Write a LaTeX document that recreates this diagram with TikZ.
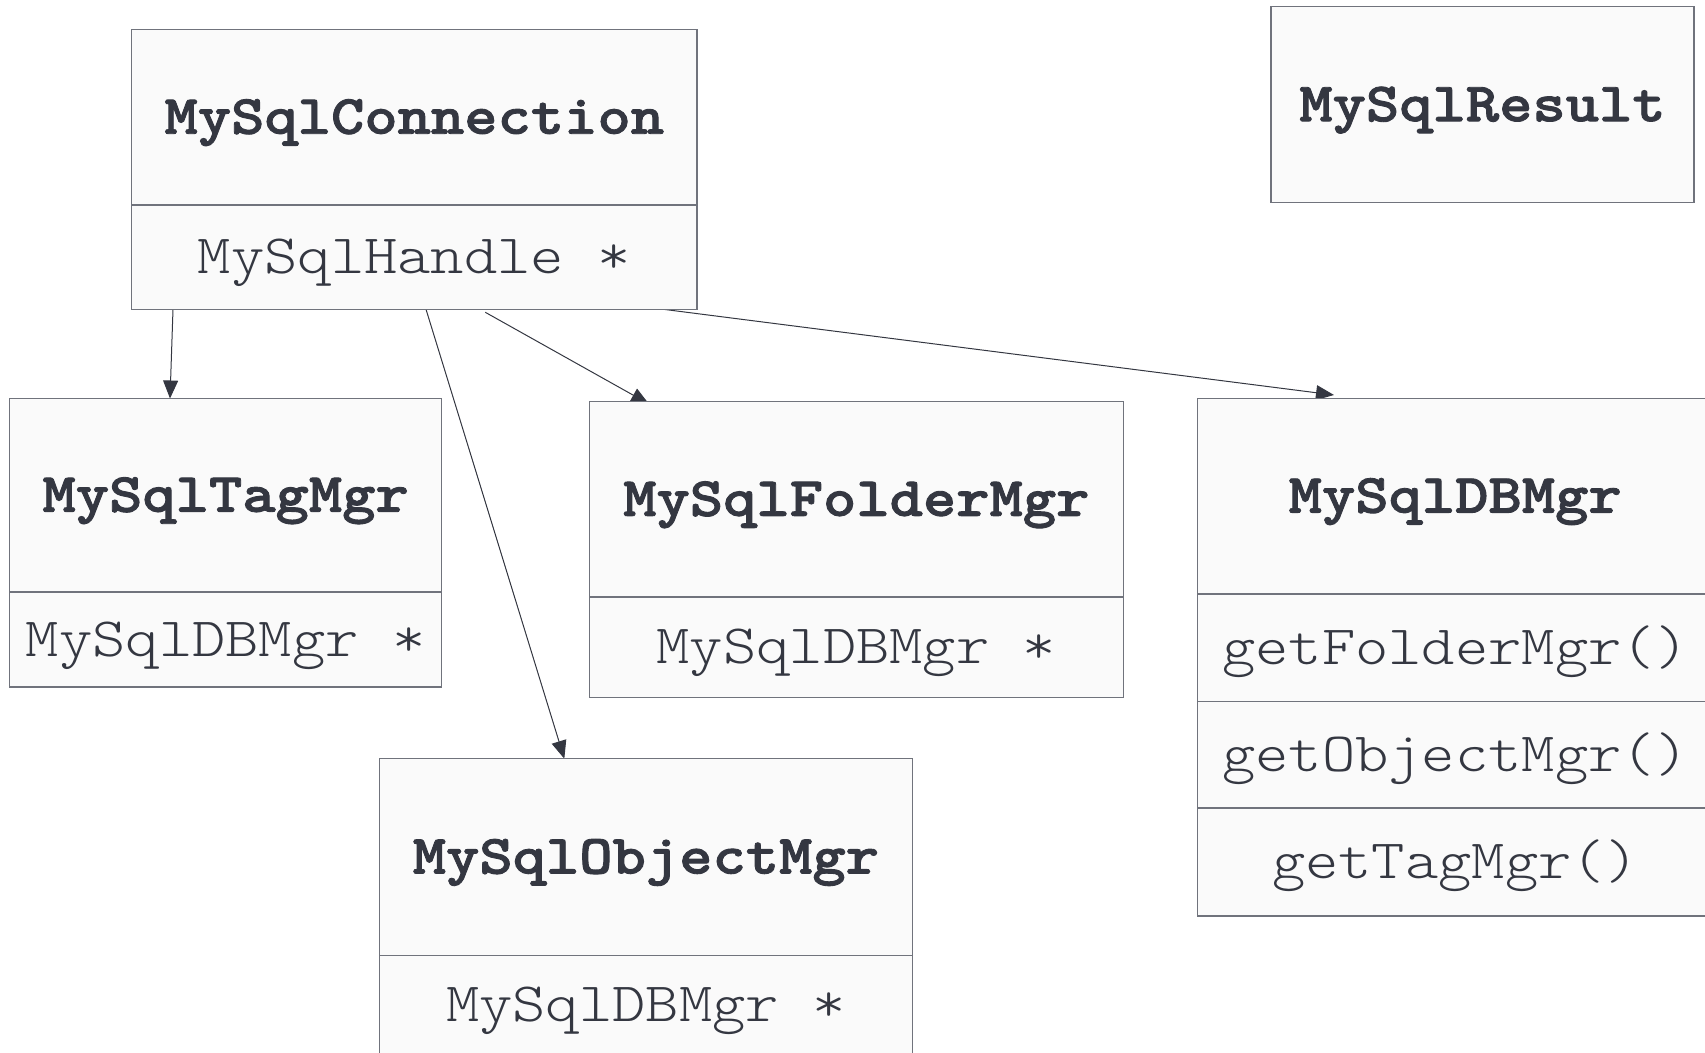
\documentclass[tikz,border=0pt]{standalone}
\usepackage{fontspec}
\setmonofont{lmmonolt10-regular.otf}[FakeStretch=1.143, BoldFont=lmmonolt10-bold.otf,
    BoldFeatures={FakeBold=1.6}]
\usetikzlibrary{arrows.meta, positioning, backgrounds}

\definecolor{boxfill}{HTML}{FAFAFA}
\definecolor{boxline}{HTML}{70737C}
\definecolor{ink}{HTML}{343741}

\begin{document}
\begin{tikzpicture}[
    x=1pt, y=-1pt,
    classbox/.style={rectangle, draw=boxline, fill=boxfill, line width=1.2pt,
        inner sep=0pt, outer sep=0pt, text=ink, text height=33pt, text depth=0pt,
        font=\fontsize{55.5}{60}\selectfont\ttfamily},
    classname/.style={classbox, font=\fontsize{55.5}{60}\selectfont\ttfamily\bfseries},
    assoc/.style={draw=ink, line width=1pt, -{Triangle[length=18pt, width=15pt]}}
]
    \path[use as bounding box, clip] (0,0) rectangle (1705,1052);

    % Connection and its handle
    \node[classname, anchor=north west, minimum width=565.4pt, minimum height=175.6pt]
        (conn) at (131.6,29.4) {MySqlConnection};
    \node[classbox, below=0pt of conn, minimum width=565.4pt, minimum height=104.3pt]
        (connattr) {MySqlHandle *};

    % Result (no members)
    \node[classname, anchor=north west, minimum width=423pt, minimum height=196pt]
        (result) at (1271,6.7) {MySqlResult};

    % Managers
    \node[classname, anchor=north west, minimum width=431.7pt, minimum height=193.5pt]
        (tag) at (9.8,398.5) {MySqlTagMgr};
    \node[classbox, below=0pt of tag, minimum width=431.7pt, minimum height=95pt]
        (tagattr) {MySqlDBMgr *};

    \node[classname, anchor=north west, minimum width=533.9pt, minimum height=195.3pt]
        (folder) at (589.4,401.7) {MySqlFolderMgr};
    \node[classbox, below=0pt of folder, minimum width=533.9pt, minimum height=100.3pt]
        (folderattr) {MySqlDBMgr *};

    \node[classname, anchor=north west, minimum width=532.8pt, minimum height=196.6pt]
        (obj) at (379.5,758.7) {MySqlObjectMgr};
    \node[classbox, below=0pt of obj, minimum width=532.8pt, minimum height=100pt]
        (objattr) {MySqlDBMgr *};

    % DB manager with its getters
    \node[classname, anchor=north west, minimum width=516pt, minimum height=195.7pt]
        (dbm) at (1197.2,398.3) {MySqlDBMgr};
    \node[classbox, below=0pt of dbm, minimum width=516pt, minimum height=107.7pt]
        (dbmfolder) {getFolderMgr()};
    \node[classbox, below=0pt of dbmfolder, minimum width=516pt, minimum height=106.3pt]
        (dbmobj) {getObjectMgr()};
    \node[classbox, below=0pt of dbmobj, minimum width=516pt, minimum height=108pt]
        (dbmtag) {getTagMgr()};

    % associations go under the boxes
    \begin{scope}[on background layer]
        \draw[assoc] ([xshift=41.4pt]connattr.south west) -- ([xshift=160.2pt]tag.north west);
        \draw[assoc] ([xshift=294.4pt]connattr.south west) -- ([xshift=184.8pt]obj.north west);
        \draw[assoc] ([xshift=353.7pt, yshift=-3pt]connattr.south west)
            -- ([xshift=59.6pt, yshift=-2.3pt]folder.north west);
        \draw[assoc] ([xshift=531.8pt]connattr.south west) -- ([xshift=136.8pt, yshift=3.3pt]dbm.north west);
    \end{scope}

\end{tikzpicture}
\end{document}
